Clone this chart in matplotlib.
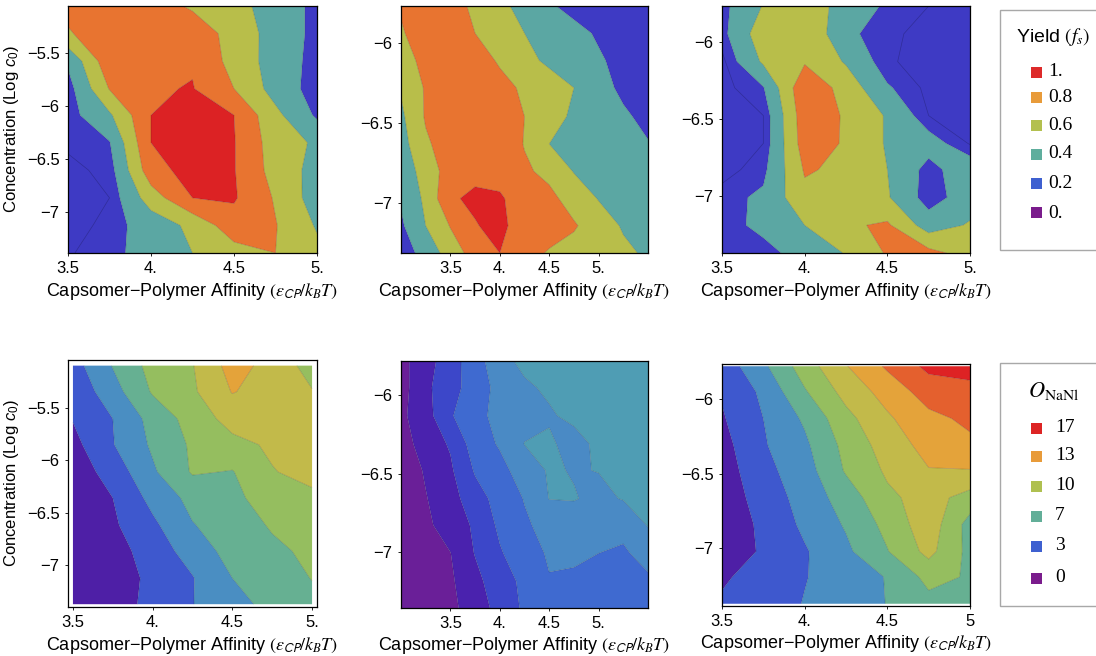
import numpy as np
import matplotlib
matplotlib.use("Agg")
import matplotlib.pyplot as plt
from matplotlib.patches import Rectangle

plt.rcParams['font.family'] = ['Liberation Sans', 'DejaVu Sans']
plt.rcParams['mathtext.fontset'] = 'custom'
plt.rcParams['mathtext.rm'] = 'Liberation Sans'
plt.rcParams['mathtext.it'] = 'Liberation Sans:italic'
plt.rcParams['mathtext.bf'] = 'Liberation Sans:bold'

W, H = 1096, 656

# --- grid coordinates (affinity eps_CP/kBT, log10 concentration) ---
x_short = [3.5, 3.75, 4.0, 4.25, 4.5, 4.75, 5.0]
x_wide = [3.0, 3.25, 3.5, 3.75, 4.0, 4.25, 4.5, 4.75, 5.0, 5.25, 5.5]

y_yield_a = [-5.06, -5.32, -5.58, -5.84, -6.09, -6.35, -6.61, -6.87, -7.13, -7.39]
y_yield_b = [-5.77, -5.94, -6.11, -6.28, -6.46, -6.63, -6.80, -6.97, -7.14, -7.31]
y_yield_c = [-5.77, -5.95, -6.13, -6.30, -6.48, -6.66, -6.83, -7.01, -7.19, -7.37]
y_onanl_a = [-5.09, -5.34, -5.60, -5.85, -6.11, -6.36, -6.62, -6.87, -7.13, -7.38]
y_onanl_b = [-5.78, -5.95, -6.13, -6.31, -6.48, -6.66, -6.83, -7.01, -7.19, -7.36]
y_onanl_c = [-5.78, -5.95, -6.13, -6.31, -6.48, -6.66, -6.84, -7.02, -7.19, -7.37]

# --- yield f_s, rows from highest to lowest concentration ---
yield_a = [
    [0.66, 0.72, 0.70, 0.57, 0.46, 0.32, 0.15],
    [0.58, 0.73, 0.76, 0.73, 0.52, 0.32, 0.15],
    [0.23, 0.74, 0.78, 0.78, 0.53, 0.31, 0.14],
    [0.13, 0.61, 0.78, 0.81, 0.60, 0.32, 0.12],
    [0.13, 0.37, 0.80, 0.90, 0.80, 0.45, 0.17],
    [0.12, 0.19, 0.80, 0.95, 0.81, 0.50, 0.37],
    [0.07, 0.13, 0.72, 0.88, 0.81, 0.52, 0.33],
    [0.05, 0.10, 0.50, 0.80, 0.82, 0.58, 0.30],
    [0.04, 0.14, 0.28, 0.45, 0.72, 0.61, 0.38],
    [0.09, 0.15, 0.28, 0.40, 0.52, 0.60, 0.45],
]
yield_b = [
    [0.62, 0.72, 0.68, 0.56, 0.45, 0.33, 0.22, 0.15, 0.13, 0.12, 0.12],
    [0.58, 0.70, 0.72, 0.60, 0.50, 0.40, 0.32, 0.25, 0.18, 0.15, 0.13],
    [0.48, 0.68, 0.78, 0.72, 0.57, 0.46, 0.36, 0.30, 0.22, 0.15, 0.12],
    [0.42, 0.62, 0.75, 0.76, 0.68, 0.56, 0.50, 0.40, 0.27, 0.16, 0.12],
    [0.36, 0.62, 0.72, 0.78, 0.72, 0.60, 0.47, 0.37, 0.30, 0.23, 0.15],
    [0.32, 0.57, 0.70, 0.78, 0.74, 0.59, 0.40, 0.35, 0.30, 0.25, 0.21],
    [0.25, 0.50, 0.68, 0.76, 0.74, 0.63, 0.55, 0.39, 0.33, 0.28, 0.25],
    [0.22, 0.44, 0.78, 0.83, 0.82, 0.72, 0.65, 0.52, 0.39, 0.33, 0.28],
    [0.17, 0.40, 0.61, 0.79, 0.85, 0.70, 0.70, 0.62, 0.50, 0.38, 0.32],
    [0.12, 0.26, 0.50, 0.68, 0.80, 0.68, 0.58, 0.53, 0.48, 0.44, 0.37],
]
yield_c = [
    [0.15, 0.41, 0.50, 0.33, 0.17, 0.10, 0.05],
    [0.15, 0.52, 0.58, 0.24, 0.12, 0.07, 0.04],
    [0.07, 0.43, 0.58, 0.38, 0.11, 0.07, 0.03],
    [0.06, 0.19, 0.76, 0.52, 0.22, 0.07, 0.04],
    [0.04, 0.10, 0.72, 0.58, 0.38, 0.10, 0.05],
    [0.04, 0.10, 0.70, 0.58, 0.38, 0.28, 0.09],
    [0.05, 0.16, 0.62, 0.56, 0.40, 0.14, 0.32],
    [0.15, 0.23, 0.55, 0.58, 0.42, 0.12, 0.30],
    [0.13, 0.25, 0.40, 0.57, 0.63, 0.30, 0.42],
    [0.12, 0.14, 0.28, 0.41, 0.62, 0.66, 0.52],
]

# --- NaNl order parameter ---
onanl_a = [
    [3.2, 6.1, 8.7, 9.9, 12.8, 11.3, 9.2],
    [2.5, 5.2, 8.2, 9.7, 12.1, 11.2, 10.1],
    [2.1, 4.0, 6.7, 8.8, 10.8, 11.1, 11.0],
    [1.4, 3.9, 6.3, 8.3, 9.4, 10.3, 10.9],
    [0.9, 2.8, 5.7, 8.2, 7.9, 9.9, 10.6],
    [0.7, 2.0, 4.6, 6.6, 7.6, 8.8, 9.6],
    [0.5, 1.7, 3.6, 5.9, 7.0, 8.2, 8.9],
    [0.4, 1.1, 3.0, 4.8, 6.8, 7.6, 8.4],
    [0.3, 0.9, 2.5, 3.9, 6.0, 7.2, 8.05],
    [0.3, 1.2, 2.5, 3.95, 5.3, 6.6, 7.6],
]
onanl_b = [
    [0.7, 1.6, 2.55, 3.6, 4.6, 5.3, 5.5, 5.6, 5.6, 5.6, 5.6],
    [0.6, 1.8, 2.6, 3.5, 4.3, 4.8, 5.2, 5.5, 5.6, 5.7, 5.7],
    [0.8, 1.6, 2.9, 3.7, 4.3, 4.7, 4.85, 5.3, 5.6, 5.7, 5.7],
    [0.5, 1.5, 2.1, 3.5, 4.1, 5.02, 5.2, 4.5, 5.3, 5.5, 5.6],
    [0.4, 1.1, 1.85, 3.1, 3.7, 4.45, 5.1, 4.95, 5.02, 5.4, 5.6],
    [0.35, 0.95, 1.6, 2.6, 3.35, 4.05, 5.02, 5.05, 4.8, 5.05, 5.4],
    [0.3, 0.8, 1.45, 2.15, 3.2, 3.85, 4.35, 4.5, 4.05, 4.3, 5.05],
    [0.3, 0.6, 0.98, 2.05, 2.9, 3.6, 4.1, 4.25, 4.0, 3.85, 4.4],
    [0.25, 0.5, 0.85, 1.7, 2.6, 3.2, 3.95, 3.75, 3.6, 3.55, 3.8],
    [0.25, 0.45, 0.8, 1.4, 2.4, 3.15, 3.5, 3.55, 3.4, 3.35, 3.5],
]
onanl_c = [
    [2.8, 5.6, 9.0, 11.9, 14.3, 16.5, 17.0],
    [2.2, 4.4, 7.8, 10.7, 12.8, 14.9, 15.2],
    [1.8, 4.0, 6.3, 9.4, 11.7, 13.5, 14.4],
    [1.3, 3.8, 5.6, 8.6, 10.9, 12.7, 13.6],
    [1.0, 3.4, 5.1, 8.2, 10.3, 11.9, 11.9],
    [0.9, 2.8, 4.8, 6.9, 9.6, 10.8, 9.2],
    [0.7, 2.4, 4.4, 6.2, 8.6, 11.2, 7.2],
    [0.6, 2.3, 3.8, 5.6, 7.9, 10.6, 7.4],
    [1.8, 2.6, 3.9, 5.0, 6.1, 8.6, 7.8],
    [2.2, 2.9, 4.1, 5.1, 6.05, 7.4, 7.6],
]

# contour levels
yield_levels = [0.0, 0.2, 0.4, 0.6, 0.8, 1.0]
yield_lines = [0.1, 0.2, 0.4, 0.6, 0.8]
onanl_levels_2 = [0, 2, 4, 6, 8, 10, 12, 14, 16, 18]
onanl_levels_1 = [0, 1, 2, 3, 4, 5, 6]

# legend entries
yield_keys = ["1.", "0.8", "0.6", "0.4", "0.2", "0."]
onanl_keys = ["17", "13", "10", "7", "3", "0"]

# colours
yield_fill = ['#3E3AC4', '#5BA7A3', '#B8BE4A', '#E87430', '#DC2224']
onanl_fill_2 = ['#4E1FA6', '#3E58CE', '#4A8EC2', '#66B092', '#95BE5F',
                '#C2BA4A', '#E4A33A', '#E4602E', '#DE2224']
onanl_fill_1 = ['#6A1F98', '#4A22AE', '#3C47C9', '#3F6AD0', '#4A8AC5', '#4F9DB4']
yield_key_col = ['#DD2A2A', '#E89B3A', '#B3C04F', '#5FAE9D', '#3E60D0', '#7A1C8C']
onanl_key_col = ['#DD2424', '#E89B3A', '#AFC050', '#62AE98', '#3E60D0', '#7A1C8C']

xlabel = "Capsomer\u2212Polymer Affinity $(\\varepsilon_{\\mathsf{CP}}/k_B T)$"
ylabel = "Concentration (Log $c_0$)"

fig = plt.figure(figsize=(W / 100, H / 100), dpi=100)


def px_axes(left, top, right, bottom):
    return fig.add_axes([left / W, 1 - bottom / H, (right - left) / W, (bottom - top) / H])


def draw_panel(ax, x, y, z, levels, colors, lines, xlim, ylim, xt, xtl, yt):
    X, Y = np.meshgrid(x, y)
    Z = np.array(z)
    ax.contourf(X, Y, Z, levels=levels, colors=colors, antialiased=True)
    ax.contour(X, Y, Z, levels=lines, colors='k', linewidths=0.5, alpha=0.22)
    ax.set_xlim(*xlim)
    ax.set_ylim(*ylim)
    ax.set_xticks(xt)
    ax.set_xticklabels(xtl)
    ax.set_yticks(yt)
    ax.set_yticklabels([("\u2212%g" % -v) for v in yt])
    ax.tick_params(direction='out', length=2, width=0.6, pad=4, labelsize=12)
    for s in ax.spines.values():
        s.set_linewidth(0.9)
    ax.set_xlabel(xlabel, fontsize=13, labelpad=3, math_fontfamily='stix')


xt = [3.5, 4.0, 4.5, 5.0]
xtl = ["3.5", "4.", "4.5", "5."]

ax1 = px_axes(68, 6, 317, 253)
draw_panel(ax1, x_short, y_yield_a, yield_a, yield_levels, yield_fill, yield_lines,
           (3.5, 5.0), (-7.39, -5.06), xt, xtl, [-5.5, -6, -6.5, -7])
ax1.set_ylabel(ylabel, fontsize=12, labelpad=4)

ax2 = px_axes(401, 6, 648, 253)
draw_panel(ax2, x_wide, y_yield_b, yield_b, yield_levels, yield_fill, yield_lines,
           (3.0, 5.5), (-7.31, -5.77), xt, xtl, [-6, -6.5, -7])

ax3 = px_axes(722, 6, 970, 253)
draw_panel(ax3, x_short, y_yield_c, yield_c, yield_levels, yield_fill, yield_lines,
           (3.5, 5.0), (-7.37, -5.77), xt, xtl, [-6, -6.5, -7])

ax4 = px_axes(68, 360, 317, 607)
draw_panel(ax4, x_short, y_onanl_a, onanl_a, onanl_levels_2[:8], onanl_fill_2[:7],
           onanl_levels_2[1:7], (3.469, 5.031), (-7.407, -5.036), xt, xtl,
           [-5.5, -6, -6.5, -7])
ax4.set_ylabel(ylabel, fontsize=12, labelpad=4)

ax5 = px_axes(401, 361, 648, 608)
draw_panel(ax5, x_wide, y_onanl_b, onanl_b, onanl_levels_1, onanl_fill_1,
           onanl_levels_1[1:6], (3.0, 5.5), (-7.36, -5.78), xt, xtl, [-6, -6.5, -7])

ax6 = px_axes(722, 364, 970, 606)
draw_panel(ax6, x_short, y_onanl_c, onanl_c, onanl_levels_2, onanl_fill_2,
           onanl_levels_2[1:9], (3.5, 5.0), (-7.385, -5.765), xt,
           ["3.5", "4.", "4.5", "5"], [-6, -6.5, -7])


def draw_key(top, bottom, title, tx, ty, tsize, keys, cols, lx, ys):
    fig.patches.append(Rectangle((1000 / W, 1 - bottom / H), 120 / W, (bottom - top) / H,
                                 transform=fig.transFigure, facecolor='white',
                                 edgecolor='#A8A8A8', linewidth=1.0))
    fig.text(tx / W, 1 - ty / H, title, fontsize=tsize, va='center', ha='left',
             math_fontfamily='stix')
    for lab, c, y in zip(keys, cols, ys):
        fig.patches.append(Rectangle((1031 / W, 1 - (y + 5.5) / H), 11 / W, 11 / H,
                                     transform=fig.transFigure, facecolor=c,
                                     edgecolor='none'))
        fig.text(lx / W, 1 - y / H, lab, fontsize=14, va='center', ha='left',
                 family='Liberation Serif')


draw_key(10, 250, "Yield $(f_s)$", 1016, 37, 14, yield_keys, yield_key_col,
         1048, [72, 97, 125, 154, 184, 213])
draw_key(363, 606, r"$O_{\mathrm{NaNl}}$", 1028, 391, 16, onanl_keys, onanl_key_col,
         1055, [428, 456, 486, 516, 546, 578])

fig.savefig("out.png", dpi=100)
